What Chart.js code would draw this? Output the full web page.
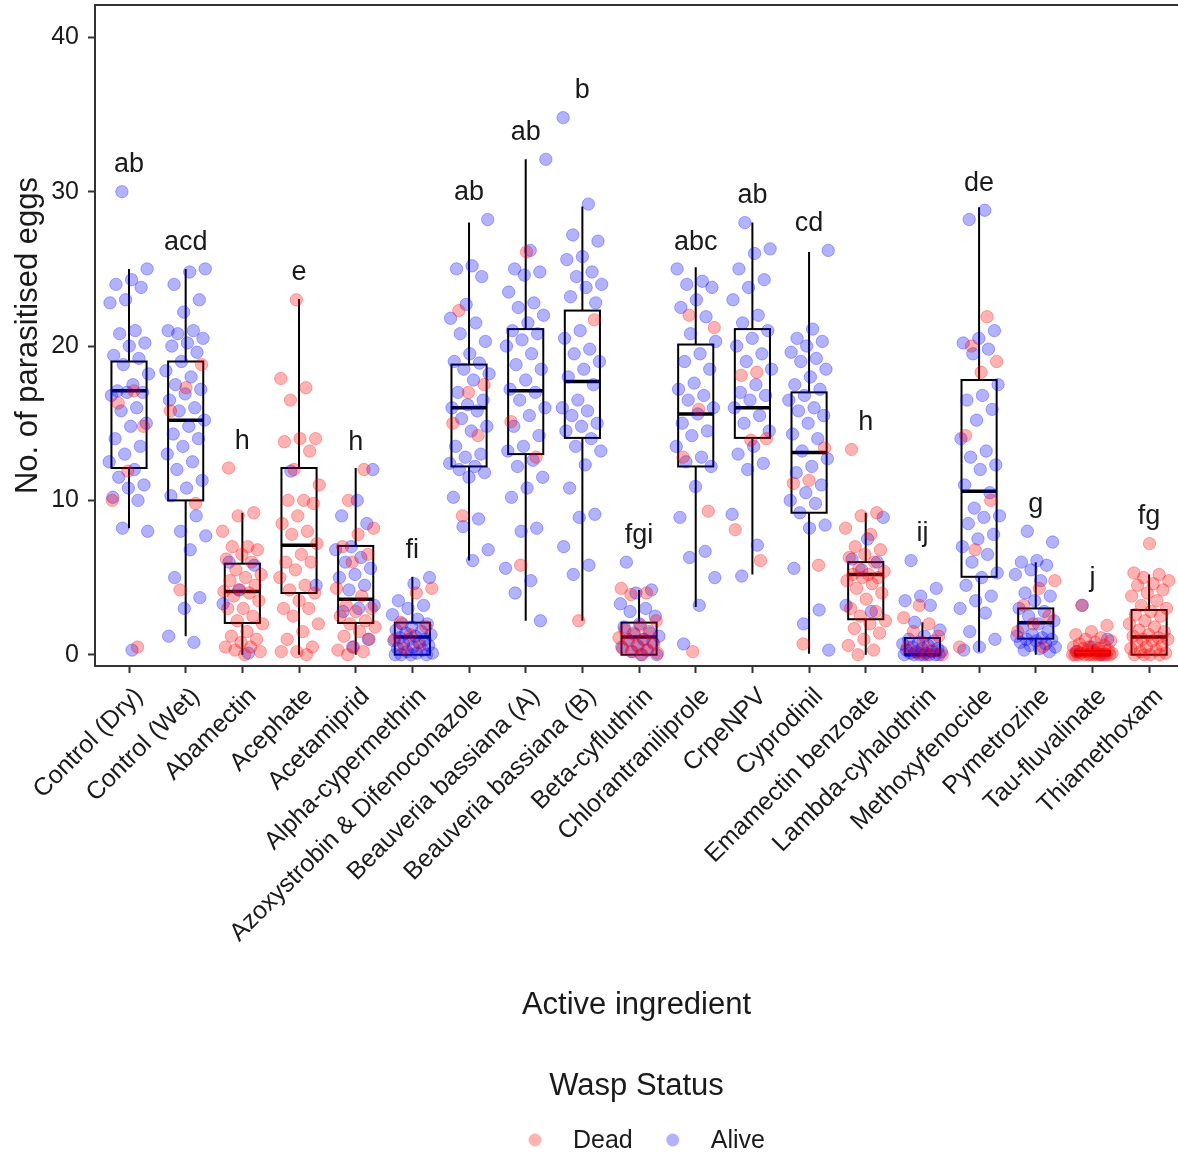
<!DOCTYPE html>
<html>
<head>
<meta charset="utf-8">
<title>Parasitised eggs by active ingredient</title>
<script src="https://cdn.jsdelivr.net/npm/chart.js@4.4.1/dist/chart.umd.min.js"></script>
<style>
  html, body { margin: 0; padding: 0; background: #fff; }
  #wrap { width: 1178px; height: 1156px; }
</style>
</head>
<body>
<div id="wrap"><canvas id="chart" width="1178" height="1156"></canvas></div>
<script>
/* ── Data ── */
const CATEGORIES = [
  'Control (Dry)', 'Control (Wet)', 'Abamectin', 'Acephate', 'Acetamiprid',
  'Alpha-cypermethrin', 'Azoxystrobin & Difenoconazole', 'Beauveria bassiana (A)',
  'Beauveria bassiana (B)', 'Beta-cyfluthrin', 'Chlorantraniliprole', 'CrpeNPV',
  'Cyprodinil', 'Emamectin benzoate', 'Lambda-cyhalothrin', 'Methoxyfenocide',
  'Pymetrozine', 'Tau-fluvalinate', 'Thiamethoxam'
];
const LETTERS = ['ab', 'acd', 'h', 'e', 'h', 'fi', 'ab', 'ab', 'b', 'fgi', 'abc', 'ab', 'cd', 'h', 'ij', 'de', 'g', 'j', 'fg'];

// box statistics per ingredient
const Q1         = [12.1, 10.0, 2.06, 4.0, 2.06, 0, 12.2, 13.0, 14.05, 0, 12.2, 14.05, 9.2, 2.3, 0, 5.05, 1.04, 0, 0];
const MEDIAN     = [17.1, 15.2, 4.1, 7.1, 3.6, 1.15, 16.0, 17.1, 17.7, 1.15, 15.6, 16.0, 13.1, 5.2, 0, 10.6, 2.08, 0, 1.15];
const Q3         = [19.0, 19.0, 5.9, 12.1, 7.05, 2.08, 18.8, 21.1, 22.3, 2.08, 20.1, 21.1, 17.0, 6.0, 1.08, 17.8, 3.0, 0.25, 2.9];
const WHISKER_LO = [8.2, 1.2, 0, 0, 0, 0, 6.1, 2.2, 2.2, 0, 3.1, 5.2, 0.07, 0, 0, 0.2, 0, 0, 0];
const WHISKER_HI = [25.0, 25.0, 9.2, 23.05, 12.1, 5.05, 28.0, 32.1, 29.05, 4.2, 25.1, 28.0, 26.1, 9.2, 2.1, 29.0, 6.0, 0.6, 5.2];

// eggs parasitised per replicate, split by wasp status
const DEAD = [
  [17.1, 16.3, 14.8, 11.9, 10, 0.5],
  [18.8, 17.3, 15.8, 9.8, 4.2],
  [12.1, 9.2, 9, 8, 7, 7, 6.8, 6.5, 6.2, 6, 5.5, 5.2, 5, 4.8, 4.5, 4.2, 4.1, 4, 3.8, 3.5, 3, 3, 2.5, 2.2, 2, 1.5, 1.2, 1, 0.8, 0.5, 0.5, 0.3, 0.2, 0],
  [23, 17.9, 17.3, 16.5, 14, 14, 13.8, 13.2, 12, 11, 10, 10, 9.8, 9, 8.5, 8, 7.8, 7.2, 6.5, 6, 6, 5.5, 5, 4.5, 4.2, 4, 3.5, 3, 3, 2.5, 2, 1.5, 1, 0.5, 0.2, 0.2, 0],
  [12, 10, 8.2, 7.8, 7, 6.5, 6, 4.3, 3.8, 3.2, 3, 2.8, 2.5, 2.2, 2, 1.8, 1.5, 1.2, 1, 0.5, 0.3, 0.2, 0],
  [4.3, 4, 2.1, 1.8, 1.3, 1, 0.6, 0.4],
  [22.3, 17.5, 17, 15, 14.2, 9.0],
  [26.1, 15.1, 12.8, 5.8],
  [21.7, 2.2],
  [4.3, 4, 3.9, 2.2, 1.9, 1.6, 1.4, 1.3, 1.1, 1, 0.9, 0.7, 0.5, 0.4, 0.3, 0.2, 0.1, 0],
  [22, 21.2, 15.9, 12.8, 9.3, 0.2],
  [18.3, 18.1, 14, 13.9, 8.1, 6.1],
  [13.4, 11.3, 11.1, 5.8, 0.7],
  [13.3, 9.2, 9, 8.2, 7.8, 7, 6.8, 6.5, 6.3, 6, 5.6, 5.4, 5.2, 5.2, 5, 5, 4.8, 4.6, 4.3, 4, 3.6, 3, 2.8, 2.5, 2.2, 2, 1.7, 1.4, 1, 0.6, 0.3, 0],
  [3.2, 2.4, 2, 1.5, 1.2, 0.8, 0.5, 0.3, 0.1, 0, 0],
  [21.9, 20, 19, 18.3, 14.2, 10, 6.8, 0.5],
  [4.8, 4.3, 3.2, 2.5, 2, 1.5, 0.5],
  [3.2, 1.9, 1.5, 1.3, 1.1, 1, 0.9, 0.8, 0.7, 0.6, 0.5, 0.5, 0.4, 0.4, 0.3, 0.3, 0.2, 0.2, 0.2, 0.1, 0.1, 0.1, 0, 0, 0, 0, 0, 0, 0, 0, 0, 0, 0, 0],
  [7.2, 5.3, 5.2, 5, 4.8, 4.6, 4.5, 4.2, 4, 3.8, 3.5, 3.2, 3, 2.8, 2.6, 2.5, 2.2, 2, 1.8, 1.6, 1.5, 1.3, 1.2, 1.1, 1, 1, 0.9, 0.8, 0.6, 0.5, 0.4, 0.3, 0.2, 0.1, 0, 0, 0, 0]
];
const ALIVE = [
  [30, 25, 24.3, 24, 23.8, 23, 22.8, 21, 20.8, 20.2, 20, 19.4, 19.2, 18.8, 18.2, 17.5, 17.1, 17, 17, 16.8, 16, 15.8, 15, 14.8, 14, 13.5, 13, 12.5, 12, 11.5, 11, 10.8, 10.2, 10, 8.2, 8, 0.3],
  [25, 24.8, 24, 23, 22.2, 21, 21, 20.8, 20.5, 20.2, 20, 19.6, 19, 18.4, 18, 17.5, 17.2, 16.9, 16.5, 16, 15.8, 15.2, 14.8, 14.3, 14, 13.5, 13, 12.5, 12, 11.3, 10.8, 10.3, 9, 8, 7.7, 6.8, 5, 3.7, 3, 1.2, 0.8],
  [6, 5.8, 4.2, 3.3, 0.1],
  [11.9, 4.5],
  [12, 10, 9, 8.5, 7, 6.8, 6.3, 6, 5.6, 5.2, 5, 4.5, 4.2, 3.2, 3, 2.8, 1, 0.5],
  [5, 4.6, 3.5, 3.2, 3, 2.6, 2.3, 2, 2, 1.8, 1.6, 1.5, 1.4, 1.3, 1.2, 1.1, 1, 1, 0.9, 0.8, 0.7, 0.6, 0.5, 0.4, 0.3, 0.2, 0.1, 0.1, 0, 0, 0, 0],
  [28.2, 25.2, 25, 24.5, 22.7, 21.8, 21.5, 20.8, 20.3, 19.5, 19, 18.9, 18.5, 18.2, 17.8, 17, 16.5, 16.2, 16, 15.8, 15.3, 14.8, 14.5, 13.5, 13, 12.8, 12.4, 12.2, 12, 11.8, 11.5, 10.2, 8.8, 8.3, 6.8, 6.1],
  [32.1, 26.2, 25, 24.8, 24.6, 23.5, 22.8, 22.5, 22, 21.5, 21, 20.8, 20.4, 20, 19.5, 18.8, 18.5, 17.8, 17.2, 17, 16.5, 16, 15.5, 14.8, 14.2, 13.5, 13.2, 12.6, 12.2, 11.5, 10.8, 10.2, 8.2, 8, 5.6, 4.8, 4, 2.2],
  [34.8, 29.2, 27.2, 26.8, 25.8, 25.6, 24.8, 24.5, 24, 23.8, 23.2, 22.8, 21, 20.5, 19.8, 19.5, 19, 18.5, 18, 17.5, 16.5, 16, 15.8, 15.5, 15, 14.8, 14.5, 14, 13.5, 13.2, 12.3, 10.8, 9.1, 8.9, 7, 5.8, 5.2],
  [6, 4.2, 4, 3.3, 3, 2.8, 2.5, 2, 1.8, 1.5, 1.4, 1.2, 1, 1, 0.8, 0.6, 0.5, 0.3, 0.2, 0, 0],
  [25, 24.2, 24, 23.8, 23, 22.5, 21.9, 20.8, 20.3, 19.5, 19, 18.5, 17.6, 17.2, 16.8, 16.5, 16, 15.6, 15, 14.5, 14.2, 13.5, 12.8, 12.5, 12.2, 10.9, 8.9, 6.7, 6.3, 5, 3.2, 0.7],
  [28, 26.3, 26, 25, 24.3, 23.8, 23, 22, 21.5, 21, 20.5, 20, 19.5, 19, 18.5, 17.5, 17, 16.8, 16.5, 16, 15.5, 15, 14.5, 13.5, 13, 12.4, 12, 9.1, 7.1, 5.1],
  [26.2, 21.1, 20.5, 20.3, 20, 19.6, 19.2, 19, 18.5, 18, 17.5, 17.2, 16.8, 16.5, 16, 15.8, 15.5, 15, 14.3, 14, 13.2, 12.7, 12.2, 11.8, 11, 10.5, 10, 9.8, 9.2, 8.4, 8.2, 5.6, 2.9, 2, 0.3],
  [8.9, 7.5, 6.2, 6, 5.5, 3.2, 2.8],
  [6.1, 4.3, 3.8, 3.5, 3.2, 2.1, 1.6, 1.2, 1, 0.9, 0.8, 0.7, 0.6, 0.5, 0.4, 0.4, 0.3, 0.2, 0.2, 0.2, 0.1, 0.1, 0, 0, 0, 0, 0, 0, 0],
  [28.8, 28.2, 21, 20.5, 20.2, 19.8, 19.5, 17.5, 16.8, 16.5, 15.9, 15.2, 14, 13.2, 12.8, 12.3, 12, 11, 10.5, 9.5, 9, 8.9, 8.5, 7.8, 7.5, 7, 6.5, 6, 5.3, 5, 4.5, 3.8, 3.5, 3, 2.7, 1.5, 1, 0.5, 0.3],
  [8, 7.3, 6.1, 6, 5.8, 5.5, 5.2, 4.8, 4, 3.8, 3.5, 3, 2.8, 2.5, 2.2, 2, 1.8, 1.5, 1.3, 1.2, 1.1, 1, 1, 0.9, 0.8, 0.7, 0.6, 0.5, 0.4, 0.3, 0.2],
  [3.2, 1.0, 0.5, 0.2, 0],
  []
];
const Y_TICKS = [0, 10, 20, 30, 40];

/* ── Styling ── */
const FONT = "'Liberation Sans', Arial, sans-serif";
const INK = '#1a1a1a';
const AXIS = '#333333';
const RED = 'rgba(255,0,0,0.3)';
const BLUE = 'rgba(0,0,255,0.3)';

Chart.defaults.font.family = FONT;
Chart.defaults.color = INK;

// horizontal spread of the points around each category (fixed pattern)
const spread = (c, j) => (((j + 1) * 0.6180339 + c * 0.2718) % 1 - 0.5) * 0.72;

function toPoints(groups, shift) {
  const pts = [];
  groups.forEach((vals, c) => {
    const base = shift ? DEAD[c].length : 0;
    vals.forEach((v, j) => pts.push({ x: c + spread(c, base + j), y: v }));
  });
  return pts;
}

/* ── Box plots, drawn beneath the points ── */
const boxPlugin = {
  id: 'boxes',
  beforeDatasetsDraw(chart) {
    const { ctx, scales: { x, y } } = chart;
    ctx.save();
    ctx.strokeStyle = '#000';
    CATEGORIES.forEach((_, i) => {
      const cx = x.getPixelForValue(i);
      const half = x.getPixelForValue(i + 0.31) - cx;
      const top = y.getPixelForValue(Q3[i]);
      const bot = y.getPixelForValue(Q1[i]);
      ctx.lineWidth = 2;
      ctx.beginPath();
      ctx.moveTo(cx, y.getPixelForValue(WHISKER_HI[i])); ctx.lineTo(cx, top);
      ctx.moveTo(cx, bot); ctx.lineTo(cx, y.getPixelForValue(WHISKER_LO[i]));
      ctx.stroke();
      ctx.strokeRect(cx - half, top, half * 2, bot - top);
      ctx.lineWidth = 3.5;
      const m = y.getPixelForValue(MEDIAN[i]);
      ctx.beginPath();
      ctx.moveTo(cx - half, m); ctx.lineTo(cx + half, m);
      ctx.stroke();
    });
    ctx.restore();
  }
};

/* ── Group letters above each column, plus the top frame line ── */
const letterPlugin = {
  id: 'letters',
  afterDatasetsDraw(chart) {
    const { ctx, scales: { x, y }, chartArea } = chart;
    ctx.save();
    ctx.font = `27px ${FONT}`;
    ctx.fillStyle = INK;
    ctx.textAlign = 'center';
    ctx.textBaseline = 'alphabetic';
    CATEGORIES.forEach((_, i) => {
      const top = Math.max(...DEAD[i], ...ALIVE[i]);
      ctx.fillText(LETTERS[i], x.getPixelForValue(i), y.getPixelForValue(top + 1.25));
    });
    ctx.strokeStyle = AXIS;
    ctx.lineWidth = 2;
    ctx.beginPath();
    ctx.moveTo(chartArea.left, chartArea.top);
    ctx.lineTo(chart.width, chartArea.top);
    ctx.stroke();
    ctx.restore();
  }
};

/* ── Legend under the x title ── */
const legendPlugin = {
  id: 'waspLegend',
  afterDraw(chart) {
    const { ctx, chartArea } = chart;
    const cx = (chartArea.left + chartArea.right) / 2;
    ctx.save();
    ctx.fillStyle = INK;
    ctx.textAlign = 'center';
    ctx.textBaseline = 'middle';
    ctx.font = `31px ${FONT}`;
    ctx.fillText('Wasp Status', cx, 1086);
    ctx.font = `25px ${FONT}`;
    ctx.textAlign = 'left';
    let px = cx - 101.5;
    chart.data.datasets.forEach(ds => {
      ctx.fillStyle = ds.backgroundColor;
      ctx.beginPath();
      ctx.arc(px, 1140, 6.5, 0, Math.PI * 2);
      ctx.fill();
      ctx.fillStyle = INK;
      ctx.fillText(ds.label, px + 38, 1141);
      px += 38 + ctx.measureText(ds.label).width + 40;
    });
    ctx.restore();
  }
};

const tickGrid = { display: true, drawOnChartArea: false, drawTicks: true, tickLength: 7, tickColor: AXIS, tickWidth: 2 };
const frame = { display: true, color: AXIS, width: 2 };

new Chart(document.getElementById('chart'), {
  type: 'scatter',
  data: {
    datasets: [
      { label: 'Dead',  data: toPoints(DEAD, false),  backgroundColor: RED,  borderColor: RED,  borderWidth: 1, pointRadius: 6.2 },
      { label: 'Alive', data: toPoints(ALIVE, true),  backgroundColor: BLUE, borderColor: BLUE, borderWidth: 1, pointRadius: 6.2 }
    ]
  },
  options: {
    responsive: false,
    animation: false,
    events: [],
    layout: { autoPadding: false, padding: { top: 5, right: 0, bottom: 132, left: 0 } },
    plugins: { legend: { display: false }, tooltip: { enabled: false } },
    scales: {
      x: {
        type: 'linear',
        min: -0.6,
        max: 18.51,
        afterBuildTicks: s => { s.ticks = CATEGORIES.map((_, i) => ({ value: i })); },
        afterFit: s => { s.height = 358; s.paddingLeft = 0; s.paddingRight = 0; },
        ticks: {
          autoSkip: false, minRotation: 45, maxRotation: 45,
          callback: v => CATEGORIES[v],
          font: { size: 25 }, color: INK, padding: 9, labelOffset: 10
        },
        grid: tickGrid,
        border: frame,
        title: { display: true, text: 'Active ingredient', font: { size: 31 }, color: INK, padding: 0 }
      },
      y: {
        min: -0.73,
        max: 42.1,
        afterBuildTicks: s => { s.ticks = Y_TICKS.map(v => ({ value: v })); },
        afterFit: s => { s.width = 95; s.paddingTop = 0; s.paddingBottom = 0; },
        ticks: { font: { size: 25 }, color: INK, padding: 9 },
        grid: tickGrid,
        border: frame,
        title: { display: true, text: 'No. of parasitised eggs', font: { size: 31 }, color: INK, padding: { top: 10, bottom: 0 } }
      }
    }
  },
  plugins: [boxPlugin, letterPlugin, legendPlugin]
});
</script>
</body>
</html>
